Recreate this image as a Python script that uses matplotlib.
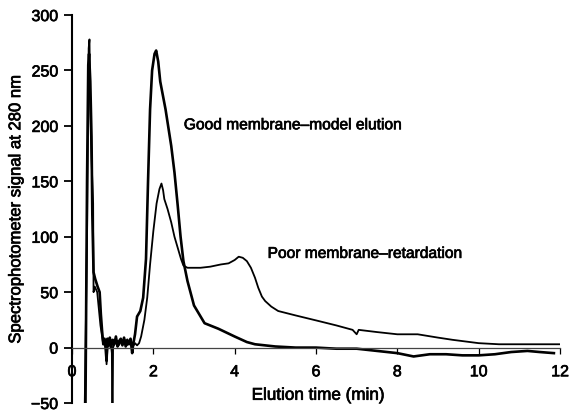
import matplotlib.pyplot as plt
import matplotlib.patheffects as pe

plt.rcParams['font.family'] = ['Liberation Sans', 'DejaVu Sans']

# good membrane (model elution), thick trace
good_t = [0.33, 0.37, 0.40, 0.42, 0.45, 0.48, 0.50, 0.53, 0.57, 0.63, 0.68, 0.71, 0.74, 0.77,
          0.80, 0.83, 0.85, 0.87, 0.90, 0.93, 0.96, 1.00, 1.04, 1.08, 1.12, 1.16, 1.20, 1.24,
          1.28, 1.32, 1.36, 1.40, 1.44, 1.48, 1.50, 1.55, 1.60, 1.68, 1.75, 1.82, 1.87, 1.92,
          1.97, 2.03, 2.07, 2.12, 2.17, 2.30, 2.44, 2.52, 2.60, 2.67, 2.74, 2.84, 3.00, 3.26,
          3.60, 4.00, 4.30, 4.50, 5.00, 5.50, 6.00, 6.50, 7.00, 7.50, 8.00, 8.40, 8.80, 9.20,
          9.60, 10.00, 10.40, 10.80, 11.20, 11.50, 11.85]
good_y = [-60, 150, 255, 265, 240, 190, 120, 68, 62, 55, 50, 30, 15, 3,
          8, -2, -12, 8, 2, 9, 0, 7, 3, 10, 1, 6, 8, 2,
          9, 1, 7, 3, 8, -5, 2, 12, 28, 33, 45, 80, 150, 215,
          250, 265, 268, 258, 240, 215, 182, 158, 128, 100, 78, 60, 38, 22,
          17, 10, 5, 3, 1, 0, 0, -1, -1, -3, -5, -8, -6, -6,
          -7, -7, -6, -4, -3, -4, -5]

# poor membrane (retardation), thinner trace
poor_t = [0.31, 0.37, 0.41, 0.43, 0.45, 0.48, 0.52, 0.53, 0.56, 0.62, 0.70, 0.76, 0.80, 0.83,
          0.85, 0.88, 0.92, 0.95, 0.98, 0.99, 1.00, 1.01, 1.05, 1.10, 1.15, 1.20, 1.25, 1.30,
          1.35, 1.40, 1.45, 1.50, 1.55, 1.60, 1.65, 1.70, 1.78, 1.85, 1.92, 2.00, 2.08, 2.15,
          2.20, 2.24, 2.27, 2.35, 2.44, 2.52, 2.60, 2.68, 2.74, 2.84, 3.00, 3.16, 3.40, 3.66,
          3.85, 4.00, 4.10, 4.20, 4.30, 4.40, 4.50, 4.58, 4.67, 4.75, 4.90, 5.07, 5.50, 6.06,
          6.50, 6.90, 7.00, 7.05, 7.50, 8.00, 8.50, 9.00, 9.36, 10.00, 10.50, 11.00, 11.50, 12.00]
poor_y = [-60, 100, 270, 278, 210, 170, 130, 50, 55, 50, 20, 5, 3, 6,
          -15, 4, 2, 6, -5, -60, -60, 0, 4, 6, 2, 5, 3, 7,
          2, 5, 3, 1, 4, 2, 4, 10, 25, 45, 75, 105, 130, 143,
          148, 142, 134, 125, 113, 100, 90, 80, 74, 72, 72, 72, 73, 75,
          76, 79, 82, 81, 78, 72, 63, 54, 46, 42, 37, 33, 29, 24,
          20, 16, 12, 16, 14, 12, 12, 9, 7, 4, 3, 3, 3, 3]

x_ticks = [0, 2, 4, 6, 8, 10, 12]
y_ticks = [-50, 0, 50, 100, 150, 200, 250, 300]

heavy = [pe.withStroke(linewidth=0.5, foreground='black')]

fig = plt.figure(figsize=(5.82, 4.12), dpi=100)
ax = fig.add_axes([0.1237, 0.0218, 0.8385, 0.9417])

ax.plot(poor_t, poor_y, color='black', lw=1.3)
ax.plot(good_t, good_y, color='black', lw=1.9)

ax.set_xlim(0, 12)
ax.set_ylim(-50, 300)

ax.spines['top'].set_visible(False)
ax.spines['right'].set_visible(False)
ax.spines['bottom'].set_position(('data', 0))
ax.spines['bottom'].set_linewidth(0.9)
ax.spines['bottom'].set_color('#444444')
ax.spines['left'].set_linewidth(1.5)

ax.set_xticks(x_ticks)
ax.set_yticks(y_ticks)
ax.set_yticklabels(['\u221250'] + [str(v) for v in y_ticks[1:]])
ax.tick_params(axis='x', direction='out', length=4, width=0.9, pad=8, labelsize=11.5)
ax.tick_params(axis='y', direction='out', length=6, width=1.3, pad=4, labelsize=11.5)
for lab in ax.get_xticklabels() + ax.get_yticklabels():
    lab.set_path_effects(heavy)

ax.set_ylabel('Spectrophotometer signal at 280 nm', fontsize=12, path_effects=heavy)
ax.yaxis.set_label_coords(-0.100, 0.50)

ax.text(6.06, -43, 'Elution time (min)', fontsize=12.3, ha='center', va='center',
        path_effects=heavy)
ax.text(2.75, 201, 'Good membrane\u2013model elution', fontsize=11.2, ha='left',
        va='center', path_effects=heavy)
ax.text(4.81, 85, 'Poor membrane\u2013retardation', fontsize=11.2, ha='left',
        va='center', path_effects=heavy)

fig.savefig('out.png', dpi=100)
